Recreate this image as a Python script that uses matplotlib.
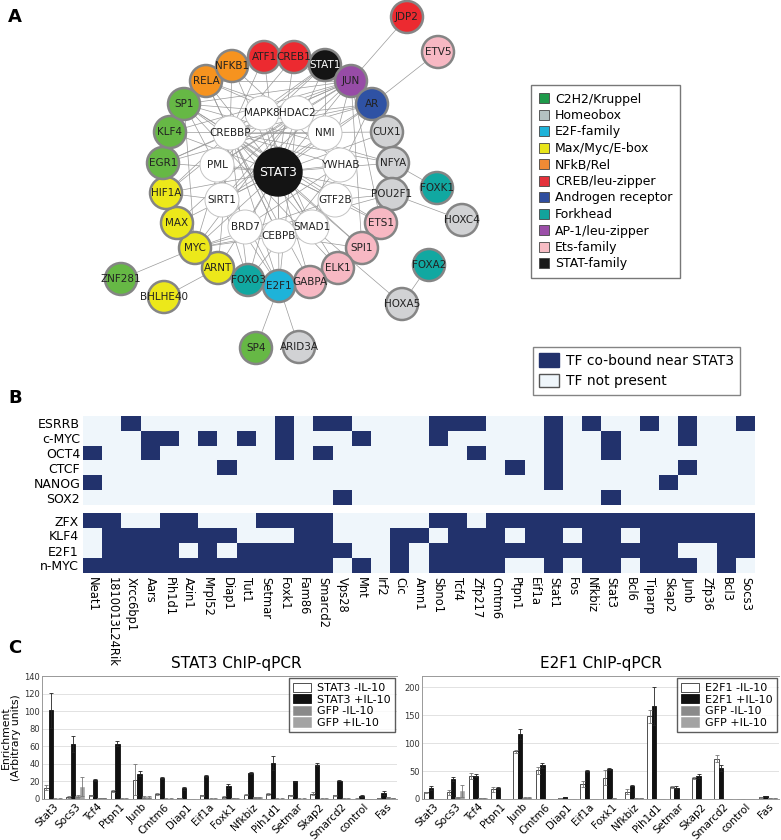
import matplotlib
matplotlib.use("Agg")
import matplotlib.pyplot as plt
import numpy as np
from matplotlib.patches import Circle, Patch
from matplotlib.lines import Line2D
from matplotlib.colors import ListedColormap

W, H = 781, 840

# ---- Panel A: network (node positions, in pixels) ----
node_names = ["STAT3", "MAPK8", "HDAC2", "CREBBP", "NMI", "PML", "YWHAB", "SIRT1",
              "GTF2B", "BRD7", "CEBPB", "SMAD1",
              "RELA", "NFKB1", "ATF1", "CREB1", "STAT1", "JUN", "AR", "CUX1", "NFYA",
              "POU2F1", "ETS1", "SPI1", "ELK1", "GABPA", "E2F1", "FOXO3", "ARNT", "MYC",
              "MAX", "HIF1A", "EGR1", "KLF4", "SP1",
              "JDP2", "ETV5", "FOXK1", "HOXC4", "FOXA2", "HOXA5", "ARID3A", "SP4",
              "ZNF281", "BHLHE40"]
node_x = [278, 262, 297, 230, 325, 217, 340, 222, 335, 245, 279, 312,
          206, 232, 264, 294, 325, 351, 372, 387, 393, 392, 381, 362, 338, 310, 279,
          248, 218, 195, 177, 166, 163, 170, 184,
          407, 438, 437, 462, 429, 402, 299, 256, 121, 164]
node_y = [172, 113, 113, 133, 133, 165, 165, 200, 200, 227, 236, 227,
          81, 66, 57, 57, 65, 81, 104, 132, 163, 194, 223, 248, 268, 282, 286,
          280, 268, 248, 223, 193, 163, 132, 104,
          17, 52, 188, 220, 265, 304, 347, 348, 279, 297]
node_family = ["STAT-family"] + ["none"] * 11 + [
    "NFkB/Rel", "NFkB/Rel", "CREB/leu-zipper", "CREB/leu-zipper", "STAT-family",
    "AP-1/leu-zipper", "Androgen receptor", "Homeobox", "Homeobox", "Homeobox",
    "Ets-family", "Ets-family", "Ets-family", "Ets-family", "E2F-family", "Forkhead",
    "Max/Myc/E-box", "Max/Myc/E-box", "Max/Myc/E-box", "Max/Myc/E-box",
    "C2H2/Kruppel", "C2H2/Kruppel", "C2H2/Kruppel",
    "CREB/leu-zipper", "Ets-family", "Forkhead", "Homeobox", "Forkhead", "Homeobox",
    "Homeobox", "C2H2/Kruppel", "C2H2/Kruppel", "Max/Myc/E-box"]

inner_nodes = ["MAPK8", "HDAC2", "CREBBP", "NMI", "PML", "YWHAB", "SIRT1", "GTF2B",
               "BRD7", "CEBPB", "SMAD1"]
ring_nodes = ["RELA", "NFKB1", "ATF1", "CREB1", "STAT1", "JUN", "AR", "CUX1", "NFYA",
              "POU2F1", "ETS1", "SPI1", "ELK1", "GABPA", "E2F1", "FOXO3", "ARNT", "MYC",
              "MAX", "HIF1A", "EGR1", "KLF4", "SP1"]
extra_edges = [("CREBBP", "HDAC2"), ("CREBBP", "NMI"), ("CREBBP", "SIRT1"),
               ("CREBBP", "YWHAB"), ("HDAC2", "SIRT1"), ("HDAC2", "PML"),
               ("MAPK8", "SMAD1"), ("PML", "SIRT1"), ("CEBPB", "CREBBP"),
               ("SMAD1", "CREBBP"), ("JUN", "CREBBP"), ("JUN", "MAPK8"), ("JUN", "HDAC2"),
               ("JUN", "PML"), ("JUN", "SIRT1"), ("AR", "CREBBP"), ("AR", "HDAC2"),
               ("AR", "SMAD1"), ("AR", "SIRT1"), ("RELA", "CREBBP"), ("RELA", "HDAC2"),
               ("RELA", "NMI"), ("RELA", "JUN"), ("NFKB1", "CREBBP"), ("NFKB1", "YWHAB"),
               ("ATF1", "CREBBP"), ("CREB1", "CREBBP"), ("CREB1", "JUN"),
               ("STAT1", "CREBBP"), ("STAT1", "NMI"), ("STAT1", "PML"), ("MYC", "MAX"),
               ("MYC", "HDAC2"), ("MYC", "CREBBP"), ("MYC", "SMAD1"), ("MYC", "SP1"),
               ("HIF1A", "ARNT"), ("HIF1A", "CREBBP"), ("HIF1A", "SIRT1"),
               ("EGR1", "CREBBP"), ("EGR1", "JUN"), ("KLF4", "CREBBP"), ("KLF4", "SP1"),
               ("SP1", "CREBBP"), ("SP1", "HDAC2"), ("SP1", "GTF2B"), ("SP1", "JUN"),
               ("SP1", "ELK1"), ("E2F1", "HDAC2"), ("E2F1", "SIRT1"), ("E2F1", "CREBBP"),
               ("E2F1", "SP1"), ("FOXO3", "SIRT1"), ("FOXO3", "CREBBP"),
               ("FOXO3", "YWHAB"), ("GABPA", "CREBBP"), ("ETS1", "CREBBP"),
               ("ETS1", "JUN"), ("SPI1", "CREBBP"), ("SPI1", "JUN"), ("CEBPB", "SPI1"),
               ("CEBPB", "RELA"), ("CEBPB", "MYC"), ("POU2F1", "GTF2B"),
               ("NFYA", "CREBBP"), ("CUX1", "CREBBP"), ("RELA", "NFKB1"),
               ("JUN", "ATF1"), ("ELK1", "SPI1"), ("ARNT", "CREBBP"), ("MAX", "HDAC2"),
               ("SMAD1", "JUN"), ("GTF2B", "MYC"), ("BRD7", "YWHAB"), ("AR", "EGR1"),
               ("JUN", "KLF4"), ("STAT1", "HIF1A"), ("NFYA", "SP1"), ("POU2F1", "MYC"),
               ("JDP2", "JUN"), ("ETV5", "AR"), ("FOXK1", "NFYA"), ("HOXC4", "POU2F1"),
               ("FOXA2", "HOXA5"), ("HOXA5", "SMAD1"), ("ARID3A", "E2F1"),
               ("SP4", "E2F1"), ("ZNF281", "MYC"), ("BHLHE40", "ARNT")]
edges = [("STAT3", n) for n in inner_nodes + ring_nodes] + extra_edges

family_names = ["C2H2/Kruppel", "Homeobox", "E2F-family", "Max/Myc/E-box", "NFkB/Rel",
                "CREB/leu-zipper", "Androgen receptor", "Forkhead", "AP-1/leu-zipper",
                "Ets-family", "STAT-family"]
node_colors = {"C2H2/Kruppel": "#66b845", "Homeobox": "#d1d2d4", "E2F-family": "#1eb3d9",
               "Max/Myc/E-box": "#ece81a", "NFkB/Rel": "#f6931f",
               "CREB/leu-zipper": "#ec2a30", "Androgen receptor": "#2f52a4",
               "Forkhead": "#11a8a1", "AP-1/leu-zipper": "#974ca6",
               "Ets-family": "#f7b8c3", "STAT-family": "#141414", "none": "white"}
legend_colors = {"C2H2/Kruppel": "#1e9a4a", "Homeobox": "#b3c1c1", "E2F-family": "#1eb3d9",
                 "Max/Myc/E-box": "#e8e51a", "NFkB/Rel": "#f08a35",
                 "CREB/leu-zipper": "#e4313b", "Androgen receptor": "#2f4d9e",
                 "Forkhead": "#12a39c", "AP-1/leu-zipper": "#9b4ea8",
                 "Ets-family": "#f7bcc4", "STAT-family": "#1a1a1a"}

# ---- Panel B: co-binding heatmap ----
heat_genes = ["Neat1", "1810013L24Rik", "Xrcc6bp1", "Aars", "Pih1d1", "Azin1", "Mrpl52",
              "Diap1", "Tut1", "Setmar", "Foxk1", "Fam86", "Smarcd2", "Vps28", "Mnt",
              "Irf2", "Cic", "Amn1", "Sbno1", "Tcf4", "Zfp217", "Cmtm6", "Ptpn1", "Eif1a",
              "Stat1", "Fos", "Nfkbiz", "Stat3", "Bcl6", "Tiparp", "Skap2", "Junb",
              "Zfp36", "Bcl3", "Socs3"]
tf_top = ["ESRRB", "c-MYC", "OCT4", "CTCF", "NANOG", "SOX2"]
bound_top = [[2, 10, 12, 13, 18, 19, 20, 24, 26, 29, 31, 34],
             [3, 4, 6, 8, 10, 14, 18, 24, 27, 31],
             [0, 3, 10, 12, 20, 24, 27],
             [7, 22, 24, 31],
             [0, 24, 30],
             [13, 27]]
tf_bottom = ["ZFX", "KLF4", "E2F1", "n-MYC"]
bound_bottom = [[0, 1, 4, 5, 9, 10, 11, 12, 18, 19, 21, 22, 23, 24, 25, 26, 27, 28, 29,
                 30, 31, 32, 33, 34],
                [1, 2, 3, 4, 5, 6, 7, 11, 12, 16, 17, 19, 20, 21, 23, 24, 26, 27, 29, 30,
                 31, 32, 33, 34],
                [1, 2, 3, 4, 6, 8, 9, 10, 11, 12, 13, 16, 18, 19, 20, 21, 22, 23, 24, 25,
                 26, 27, 28, 29, 30, 33, 34],
                [0, 1, 2, 3, 4, 5, 6, 7, 8, 9, 10, 11, 12, 14, 16, 18, 19, 20, 21, 24, 26,
                 27, 29, 30, 31, 33]]

# ---- Panel C: ChIP-qPCR ----
qpcr_genes = ["Stat3", "Socs3", "Tcf4", "Ptpn1", "Junb", "Cmtm6", "Diap1", "Eif1a",
              "Foxk1", "Nfkbiz", "Pih1d1", "Setmar", "Skap2", "Smarcd2", "control", "Fas"]
stat3_minus = [13, 2, 4, 9, 22, 6, 1, 4, 2, 5, 6, 4, 6, 4, 0.5, 1]
stat3_minus_err = [3, 1, 1, 1, 18, 1, 0.3, 1, 1, 1, 1, 1, 2, 1, 0.2, 0.5]
stat3_plus = [101, 63, 22, 63, 29, 24, 12, 26, 15, 30, 41, 20, 39, 21, 3, 7]
stat3_plus_err = [20, 9, 1, 3, 3, 1, 2, 1, 2, 1, 8, 1, 2, 1, 1, 2]
e2f1_minus = [12, 12, 41, 17, 85, 51, 2, 27, 38, 13, 148, 22, 37, 72, 0.5, 3]
e2f1_minus_err = [0.5, 4, 5, 5, 2, 6, 0.5, 5, 13, 4, 12, 2, 2, 6, 0.2, 0.5]
e2f1_plus = [20, 36, 42, 19, 116, 60, 3, 50, 53, 24, 166, 20, 41, 55, 0.5, 5]
e2f1_plus_err = [4, 4, 3, 2, 9, 5, 0.5, 1, 2, 1, 34, 3, 4, 5, 0.2, 1]
gfp_minus = [0.5, 3, 1, 0.5, 2, 0.5, 0.3, 0.5, 1, 2, 0.5, 0.5, 0.5, 0.5, 0.3, 2]
gfp_minus_err = [0.2, 1, 0.3, 0.2, 1, 0.2, 0.1, 0.2, 0.3, 0.5, 0.2, 0.2, 0.2, 0.2, 0.1, 0.5]
gfp_plus = [0.5, 14, 1, 0.5, 2, 0.5, 0.3, 0.5, 0.5, 2, 0.5, 0.5, 0.5, 0.5, 0.3, 1]
gfp_plus_err = [0.2, 11, 0.3, 0.2, 1, 0.2, 0.1, 0.2, 0.2, 0.5, 0.2, 0.2, 0.2, 0.2, 0.1, 0.3]


def px_axes(fig, x0, y0, x1, y1):
    return fig.add_axes([x0 / W, 1 - y1 / H, (x1 - x0) / W, (y1 - y0) / H])


fig = plt.figure(figsize=(W / 100, H / 100), dpi=100)

# ---------------- A ----------------
ax = px_axes(fig, 0, 0, 520, 370)
ax.set_xlim(0, 520)
ax.set_ylim(370, 0)
ax.axis("off")
pos = {n: (x, y) for n, x, y in zip(node_names, node_x, node_y)}
for a, b in edges:
    ax.plot([pos[a][0], pos[b][0]], [pos[a][1], pos[b][1]], color="#9a9a9a", lw=0.5,
            zorder=1)
for n, x, y, fam in zip(node_names, node_x, node_y, node_family):
    if n == "STAT3":
        r, ec, lw, fs, tc = 24, "#141414", 1.0, 9, "white"
    elif fam == "none":
        r, ec, lw, fs, tc = 17, "#c4c4c4", 0.7, 7.5, "#222222"
    else:
        r, ec, lw, fs, tc = 16, "#858585", 1.8, 7.5, "#222222"
        if fam == "STAT-family":
            tc = "white"
    ax.add_patch(Circle((x, y), r, facecolor=node_colors[fam], edgecolor=ec, lw=lw,
                        zorder=2))
    ax.text(x, y, n, ha="center", va="center", fontsize=fs, color=tc, zorder=3)

handles_a = [Line2D([], [], marker="s", ls="", markersize=7,
                    markerfacecolor=legend_colors[f], markeredgecolor="#444444",
                    markeredgewidth=0.6) for f in family_names]
leg_a = fig.legend(handles_a, family_names, loc="upper left",
                   bbox_to_anchor=(531 / W, 1 - 85 / H), fontsize=9, frameon=True,
                   fancybox=False, edgecolor="#555555", handlelength=0.8,
                   handletextpad=0.5, labelspacing=0.28, borderpad=0.6,
                   borderaxespad=0)
leg_a.get_frame().set_linewidth(1.0)

# ---------------- B ----------------
heat_cmap = ListedColormap(["#eff6fb", "#22326c"])
top_mat = np.zeros((len(tf_top), len(heat_genes)))
for i, cols in enumerate(bound_top):
    top_mat[i, cols] = 1
bot_mat = np.zeros((len(tf_bottom), len(heat_genes)))
for i, cols in enumerate(bound_bottom):
    bot_mat[i, cols] = 1

axt = px_axes(fig, 83, 416, 755, 505)
axt.imshow(top_mat, cmap=heat_cmap, vmin=0, vmax=1, aspect="auto",
           interpolation="nearest")
axt.set_yticks(range(len(tf_top)))
axt.set_yticklabels(tf_top, fontsize=9)
axt.set_xticks([])
axt.tick_params(length=0, pad=2)
for s in axt.spines.values():
    s.set_visible(False)

axb = px_axes(fig, 83, 513, 755, 573)
axb.imshow(bot_mat, cmap=heat_cmap, vmin=0, vmax=1, aspect="auto",
           interpolation="nearest")
axb.set_yticks(range(len(tf_bottom)))
axb.set_yticklabels(tf_bottom, fontsize=9)
axb.set_xticks(range(len(heat_genes)))
axb.set_xticklabels(heat_genes, rotation=-90, fontsize=8.3, va="top", ha="center")
axb.tick_params(length=0, pad=3)
for s in axb.spines.values():
    s.set_visible(False)

handles_b = [Patch(facecolor="#22326c", edgecolor="#22326c"),
             Patch(facecolor="#eff6fb", edgecolor="#555555")]
leg_b = fig.legend(handles_b, ["TF co-bound near STAT3", "TF not present"],
                   loc="upper left", bbox_to_anchor=(533 / W, 1 - 347 / H), fontsize=10,
                   frameon=True, fancybox=False, edgecolor="#666666", handlelength=1.4,
                   handleheight=1.1, handletextpad=0.5, labelspacing=0.45,
                   borderpad=0.45, borderaxespad=0)

# ---------------- C ----------------
def qpcr_panel(ax, title, name, minus, minus_err, plus, plus_err, ymax, step, title_x):
    x = np.arange(len(qpcr_genes))
    w = 0.2
    ek = dict(elinewidth=0.6, capsize=1.5, capthick=0.6)
    ax.bar(x - 1.5 * w, minus, w, color="white", edgecolor="#333333", lw=0.6,
           yerr=minus_err, error_kw=dict(ecolor="#777777", **ek),
           label=name + " -IL-10", zorder=2)
    ax.bar(x - 0.5 * w, plus, w, color="#111111", edgecolor="#111111", lw=0.6,
           yerr=plus_err, error_kw=dict(ecolor="#222222", **ek),
           label=name + " +IL-10", zorder=2)
    ax.bar(x + 0.5 * w, gfp_minus, w, color="#8a8a8a", edgecolor="#8a8a8a", lw=0.4,
           yerr=gfp_minus_err, error_kw=dict(ecolor="#777777", **ek),
           label="GFP -IL-10", zorder=2)
    ax.bar(x + 1.5 * w, gfp_plus, w, color="#a3a3a3", edgecolor="#a3a3a3", lw=0.4,
           yerr=gfp_plus_err, error_kw=dict(ecolor="#777777", **ek),
           label="GFP +IL-10", zorder=2)
    ax.set_xlim(-0.5, len(qpcr_genes) - 0.5)
    ax.set_ylim(0, ymax)
    ax.set_yticks(np.arange(0, ymax + 0.1, step))
    ax.tick_params(axis="y", labelsize=6, length=0, pad=1.5, colors="#333333")
    ax.set_xticks(x)
    ax.set_xticklabels(qpcr_genes, rotation=45, ha="right", rotation_mode="anchor",
                       fontsize=7.5)
    ax.tick_params(axis="x", length=0, pad=2)
    ax.grid(axis="y", color="#dddddd", lw=0.6, zorder=0)
    ax.set_axisbelow(True)
    for s in ["left", "top", "bottom"]:
        ax.spines[s].set_color("#999999")
        ax.spines[s].set_linewidth(0.7)
    ax.spines["right"].set_visible(False)
    ax.set_title(title, fontsize=11, pad=6, x=title_x)
    leg = ax.legend(loc="upper right", fontsize=8, frameon=True, fancybox=False,
                    edgecolor="#333333", handlelength=1.6, handleheight=0.9,
                    handletextpad=0.5, labelspacing=0.1, borderpad=0.4,
                    borderaxespad=0.2)
    leg.get_frame().set_linewidth(1.0)


axl = px_axes(fig, 42, 676, 397, 799)
qpcr_panel(axl, "STAT3 ChIP-qPCR", "STAT3", stat3_minus, stat3_minus_err, stat3_plus,
           stat3_plus_err, 140, 20, 0.546)
axl.set_ylabel("Enrichment\n(Arbitrary units)", fontsize=7.8, linespacing=1.1)
axl.yaxis.set_label_coords(-0.058, 0.5)

axr = px_axes(fig, 422, 676, 779, 799)
qpcr_panel(axr, "E2F1 ChIP-qPCR", "E2F1", e2f1_minus, e2f1_minus_err, e2f1_plus,
           e2f1_plus_err, 220, 50, 0.5)
axr.set_yticks([0, 50, 100, 150, 200])

# panel letters
for lab, yy in [("A", 17), ("B", 398), ("C", 648)]:
    fig.text(8 / W, 1 - yy / H, lab, fontsize=13, fontweight="bold", va="center",
             ha="left")

fig.savefig("out.png", dpi=100)
